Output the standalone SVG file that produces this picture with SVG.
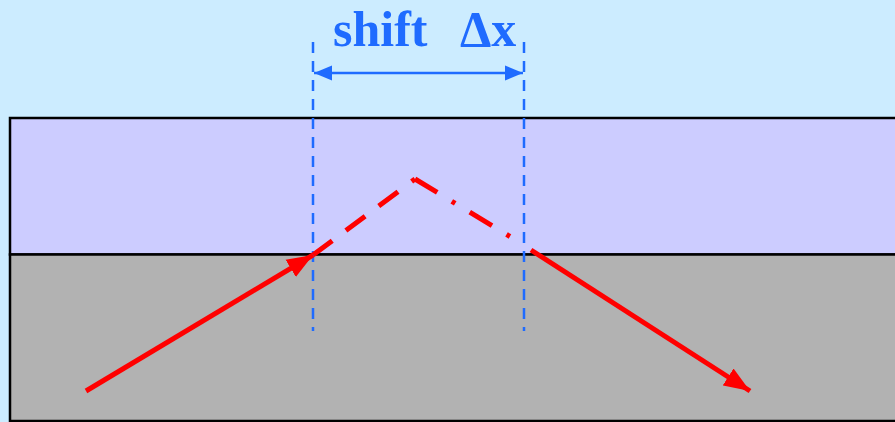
<svg xmlns="http://www.w3.org/2000/svg" width="895" height="422" viewBox="0 0 895 422">
<style>
.guide{stroke:#1F6BFF;stroke-width:2.5;stroke-dasharray:11 8;fill:none}
.ray{stroke:#FF0000;stroke-width:5;fill:none}
.dim{stroke:#1F6BFF;stroke-width:2.5;fill:none}
.label{font-family:"Liberation Serif","Times New Roman",serif;font-weight:bold;font-size:50px;fill:#1F6BFF}
</style>
<defs>
<marker id="redHead" markerUnits="userSpaceOnUse" markerWidth="28" markerHeight="22" refX="26" refY="11" orient="auto">
<path d="M0,1 L26,11 L0,21 Z" fill="#FF0000"/>
</marker>
<marker id="blueHead" markerUnits="userSpaceOnUse" markerWidth="20" markerHeight="18" refX="18" refY="9" orient="auto-start-reverse">
<path d="M0,1.5 L18,9 L0,16.5 Z" fill="#1F6BFF"/>
</marker>
</defs>
<rect x="0" y="0" width="895" height="422" fill="#CCECFF"/>
<g id="layer-top">
<rect x="10" y="118" width="900" height="136.5" fill="#CCCCFF" stroke="#000" stroke-width="2.5"/>
</g>
<g id="layer-bottom">
<rect x="10" y="254.5" width="900" height="166.5" fill="#B2B2B2" stroke="#000" stroke-width="2.5"/>
</g>
<g id="label">
<text class="label" y="45.5"><tspan x="333">shift</tspan><tspan x="460">Δx</tspan></text>
</g>
<g id="connectors">
<line class="guide" x1="313" y1="42" x2="313" y2="331"/>
<line class="guide" x1="524" y1="42" x2="524" y2="331"/>
<line class="dim" x1="314" y1="73" x2="523" y2="73" marker-start="url(#blueHead)" marker-end="url(#blueHead)"/>
<line class="ray" x1="86" y1="391" x2="313" y2="255" marker-end="url(#redHead)"/>
<line class="ray" x1="313" y1="255" x2="415" y2="179" stroke-dasharray="24 17"/>
<line class="ray" x1="415" y1="179" x2="524" y2="245" stroke-dasharray="26 17 4 17"/>
<line class="ray" x1="531" y1="250" x2="750" y2="391" marker-end="url(#redHead)"/>
</g>
</svg>
